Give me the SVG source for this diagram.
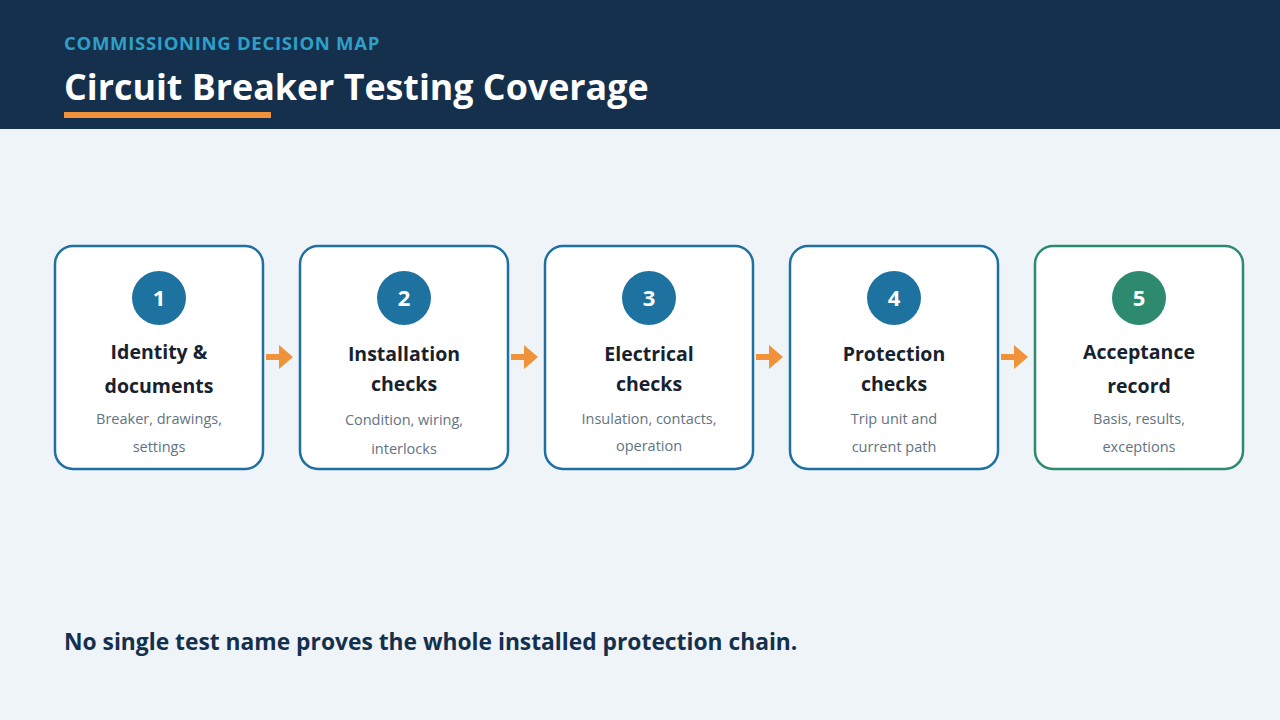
<svg xmlns="http://www.w3.org/2000/svg" width="1280" height="720" viewBox="0 0 1280 720">
<defs>
<style>
text{font-family:"Open Sans","Noto Sans","DejaVu Sans",sans-serif;}
.kicker{font-size:18.5px;font-weight:700;fill:#2ea0c8;letter-spacing:0.7px;}
.title{font-size:35.8px;font-weight:700;fill:#ffffff;}
.card{fill:#ffffff;stroke:#1d70a0;stroke-width:2.5;}
.card.g{stroke:#2e8a6e;}
.dot{fill:#1d72a0;}
.dot.g{fill:#2e8a6e;}
.num{font-size:22px;font-weight:700;fill:#ffffff;text-anchor:middle;}
.h{font-size:19.5px;font-weight:700;fill:#17222f;text-anchor:middle;}
.s{font-size:14.5px;fill:#627384;text-anchor:middle;}
.foot{font-size:22.8px;font-weight:700;fill:#15304d;}
.arrow{fill:#f0923a;}
</style>
</defs>
<rect x="0" y="0" width="1280" height="720" fill="#eef4f7"/>
<g id="header">
<rect x="0" y="0" width="1280" height="129" fill="#15304d"/>
<text class="kicker" x="64" y="50">COMMISSIONING DECISION MAP</text>
<text class="title" x="64" y="100">Circuit Breaker Testing Coverage</text>
<rect x="64" y="112" width="207" height="6" fill="#f0923a"/>
</g>
<g id="connectors">
<path class="arrow" d="M266 354h13v-9l14 12-14 12v-9h-13z"/>
<path class="arrow" d="M511 354h13v-9l14 12-14 12v-9h-13z"/>
<path class="arrow" d="M756 354h13v-9l14 12-14 12v-9h-13z"/>
<path class="arrow" d="M1001 354h13v-9l14 12-14 12v-9h-13z"/>
</g>
<g id="step1">
<rect class="card" x="55" y="246" width="208" height="223" rx="18"/>
<circle class="dot" cx="159" cy="298" r="27"/>
<text class="num" x="159" y="306">1</text>
<text class="h" x="159" y="359">Identity &amp;</text>
<text class="h" x="159" y="393">documents</text>
<text class="s" x="159" y="424">Breaker, drawings,</text>
<text class="s" x="159" y="452">settings</text>
</g>
<g id="step2">
<rect class="card" x="300" y="246" width="208" height="223" rx="18"/>
<circle class="dot" cx="404" cy="298" r="27"/>
<text class="num" x="404" y="306">2</text>
<text class="h" x="404" y="361">Installation</text>
<text class="h" x="404" y="391">checks</text>
<text class="s" x="404" y="425">Condition, wiring,</text>
<text class="s" x="404" y="454">interlocks</text>
</g>
<g id="step3">
<rect class="card" x="545" y="246" width="208" height="223" rx="18"/>
<circle class="dot" cx="649" cy="298" r="27"/>
<text class="num" x="649" y="306">3</text>
<text class="h" x="649" y="361">Electrical</text>
<text class="h" x="649" y="391">checks</text>
<text class="s" x="649" y="424">Insulation, contacts,</text>
<text class="s" x="649" y="451">operation</text>
</g>
<g id="step4">
<rect class="card" x="790" y="246" width="208" height="223" rx="18"/>
<circle class="dot" cx="894" cy="298" r="27"/>
<text class="num" x="894" y="306">4</text>
<text class="h" x="894" y="361">Protection</text>
<text class="h" x="894" y="391">checks</text>
<text class="s" x="894" y="424">Trip unit and</text>
<text class="s" x="894" y="452">current path</text>
</g>
<g id="step5">
<rect class="card g" x="1035" y="246" width="208" height="223" rx="18"/>
<circle class="dot g" cx="1139" cy="298" r="27"/>
<text class="num" x="1139" y="306">5</text>
<text class="h" x="1139" y="359">Acceptance</text>
<text class="h" x="1139" y="393">record</text>
<text class="s" x="1139" y="424">Basis, results,</text>
<text class="s" x="1139" y="452">exceptions</text>
</g>
<g id="footer">
<text class="foot" x="64" y="650">No single test name proves the whole installed protection chain.</text>
</g>
</svg>
